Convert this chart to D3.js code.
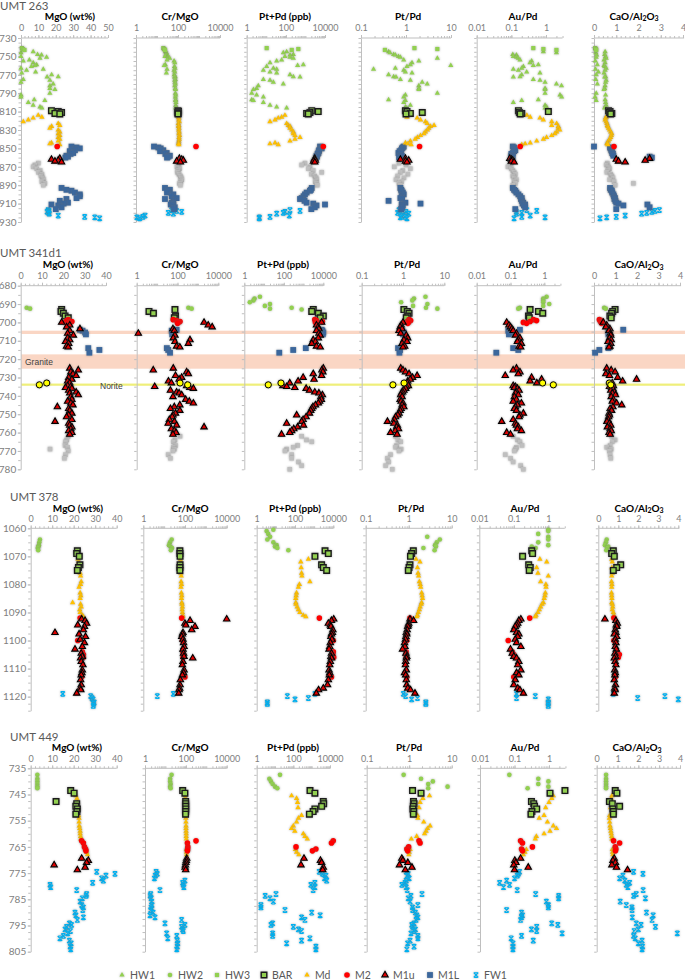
<!DOCTYPE html>
<html><head><meta charset="utf-8">
<script src="https://cdn.jsdelivr.net/npm/d3@7"></script>
<style>
body{margin:0;background:#fff}
svg{display:block;font-family:Lato,"Open Sans","Liberation Sans",sans-serif}
.mk{filter:drop-shadow(0 0 0.8px rgba(110,110,110,0.55))}
</style>
</head><body>
<svg id="c" width="685" height="980"></svg>
<script>
// ---------- DATA: rows = [depth, MgO, Cr/MgO, Pt+Pd, Pt/Pd, Au/Pd, CaO/Al2O3] ----------
// UMT 263
const hw3_263 = [[741,0.5,20,10.5,1.54,0.43,0.05],[742,1.0,22,433,4.97,0.84,0.08],[743,2.0,24,200,0.34,2.0,0.10]];
const hw1_263 = [
[745,7.0,25,110,0.41,0.84,0.50],[746,0.0,28,74,0.44,2.0,0.08],[748,9.5,30,241,0.53,0.11,0.48],[748.5,11.8,26,163,0.58,0.14,0.12],
[750,0.0,24,90,0.68,0.114,0.52],[751,14.7,35,163,0.75,0.142,0.10],[752,10.9,40,241,4.97,0.159,0.55],[754,4.8,30,61,0.89,0.178,0.45],
[755,1.3,65,34,1.93,0.386,0.06],[757,7.0,70,15.5,1.36,0.345,0.50],[759,9.0,25,780,1.25,0.6,0.15],[760,8.0,22,400,9.9,0.43,0.45],[761,6.0,68,10.5,1.05,0.222,0.48],
[763,0.0,72,23,0.58,0.199,0.55],[764,12.8,30,34,0.19,0.114,0.07],[765,3.2,65,7.1,0.89,0.159,0.50],[767,8.4,70,15.5,0.97,0.277,0.20],
[768,0.4,28,34,1.36,0.67,0.45],[770,17.6,66,163,0.41,0.199,0.10],[772,21.4,74,241,0.53,0.178,0.52],[772.5,15,68,530,0.6,0.114,0.48],
[775,1.3,75,7.1,0.75,0.43,0.08],[776,16.6,70,15.5,1.25,0.67,0.55],[778,0.0,72,23,2.29,0.94,0.52],[780,18.5,75,74,2.96,2.0,0.15],
[782,16.6,70,3.9,1.93,2.8,0.50],[785,16.6,74,3.2,1.93,0.94,0.48],[786,19.5,76,2.2,1.93,0.94,0.45],[790,16.6,75,1.8,4.97,0.94,0.10],
[792,0.0,78,3.2,0.97,2.53,0.52],[794,0.0,75,7.1,0.89,2.83,0.05],[797,7.6,78,1.8,0.41,0.6,0.50],[798,13.7,76,2.2,0.97,0.199,0.10],
[800,4.2,80,7.1,0.89,0.114,0.52],[803,7.0,78,15.5,1.25,0.94,0.55],[805,10.9,80,34,0.97,1.04,0.50],[806,12,78,110,1.04,0.94,0.48]];
const bar_263 = [[809,17.5,100,2100,0.97,0.16,0.65],[810,21.4,105,4500,1.05,1.17,0.72],[811,23.3,98,1700,2.3,0.17,0.70],[812,19.5,102,1155,1.25,0.20,0.80],[812.5,22.3,100,1400,1.0,0.18,0.75]];
const md_263 = [
[814,9.9,110,90,1.15,0.28,0.60],[816,12.0,105,61,1.05,0.35,0.55],[817,7.0,112,41,1.77,0.67,0.52],[819,4.2,108,28,2.1,0.84,0.50],
[821,1.3,115,15.5,2.7,1.46,0.55],[823,21.4,104,110,2.96,2.03,0.58],[825,22.3,110,133,4.2,1.46,0.60],[826,17.6,106,163,3.5,2.27,0.62],
[828,16.6,112,163,3.2,2.27,0.65],[830,21.4,108,200,3.0,2.5,0.70],[832,22.3,114,241,2.7,2.03,0.75],[834,21.4,110,241,2.5,1.8,0.80],
[836,22.3,118,293,2.1,1.46,0.78],[838,21.4,112,530,1.8,1.04,0.75],[840,22.3,115,293,1.6,0.84,0.70],[842,21.4,110,163,1.25,0.54,0.65],
[844,17.5,108,28,0.97,0.35,0.60],[845,16.6,105,15.5,1.1,0.25,0.58],[846,22.3,110,41,1.3,0.20,0.62]];
const m2_263 = [[848,20.8,720,8200,2.0,0.18,0.9]];
const m1u_263 = [[861,22.3,116,3000,0.97,0.09,2.5],[862,17.5,150,2800,0.75,0.10,1.0],[863,21.4,180,3200,1.15,0.11,2.3],[864,19.5,86,2600,0.97,0.10,1.1],[865,23.3,130,3000,1.05,0.12,1.4]];
const m1l_263 = [
[848,29.0,7.2,5600,0.89,0.11,0.0],[849,31.9,11.6,6000,0.85,0.12,0.72],[850,33.8,15,6800,0.81,0.12,0.75],[852,31.0,20,5000,0.78,0.13,0.78],
[853,28.0,14,4800,0.72,0.12,0.80],[855,30.0,29,4600,0.68,0.11,0.82],[856,28.5,25,4200,0.75,0.10,0.85],[858,26.1,41,3700,0.81,0.10,0.87],
[859,27.0,35,3900,0.78,0.11,2.5],[860,25.5,30,3500,0.70,0.10,2.6],
[893,23.3,24,2100,0.75,0.11,0.72],[895,26.1,41,1900,0.78,0.12,0.75],[896,29.0,35,1700,0.80,0.13,0.80],[898,31.0,30,1150,0.85,0.14,0.82],
[900,33.8,60,950,0.89,0.16,0.87],[902,33.8,50,800,0.80,0.18,0.90],[904,31.9,86,640,0.75,0.20,0.94],[905,26.1,24,530,0.82,0.19,0.92],
[907,22.3,60,900,0.41,0.20,0.96],[909,27.0,50,1150,0.97,0.22,1.0],[910,24.5,55,2500,2.1,0.21,1.1],[911,17.5,45,10000,0.80,0.25,2.4],
[912,21.4,60,3700,0.85,0.23,1.32],[914,23.3,70,3000,0.82,0.25,2.5],[916,20.0,65,2000,0.78,0.13,1.0]];
const grey_263 = [
[866,10.0,100,950,0.70,0.10,0.60],[868,8.0,110,640,1.0,0.09,0.55],[870,7.0,90,1700,0.55,0.08,0.65],[872,9.0,120,1400,1.25,0.10,0.70],
[874,11.0,100,2500,0.85,0.11,0.62],[876,10.0,95,6800,0.75,0.12,0.58],[878,12.0,110,2000,1.1,0.13,0.75],[880,11.5,130,3000,0.65,0.11,0.80],
[882,12.5,140,3500,0.9,0.12,0.85],[884,13.0,150,3700,0.6,0.14,0.70],[886,12.0,135,3200,0.8,0.12,0.90],[888,13.7,120,3700,0.7,0.13,1.77],[890,12.8,130,4000,0.75,0.11,0.95]];
const fw1_263 = [
[917,15.6,50,163,0.70,0.28,2.94],[918,16.2,86,530,0.85,0.54,2.74],[919,15.0,150,90,1.0,0.14,2.6],[920,16.0,34.6,74,0.65,0.20,2.37],
[921,16.2,60,34,1.15,0.14,2.14],[923,21.4,2.7,150,0.80,0.35,1.4],[924.5,36.6,2.1,15.5,0.95,0.20,1.0],[925,42.4,1.1,4.4,0.75,0.94,0.57],[926,45.2,1.5,4.4,1.05,0.12,0.27]];

// UMT 341d1
const hw2_341 = [
[686,null,null,6.2,3.5,1.17,null],[687,null,null,3.3,1.85,0.93,null],[688,null,null,2.9,1.68,0.93,null],[689,null,null,1.9,0.9,0.93,null],
[690,null,null,20,3.9,1.4,null],[691,null,null,11,1.75,0.93,null],[692,2.8,340,250,3.6,0.19,0.47],[692.5,4.4,495,20,6.8,0.17,0.55],[693,null,null,800,null,null,null]];
const bar_341 = [[693,19.2,75,3100,1.05,0.38,0.98],[694,18.9,4.0,2600,1.27,0.67,0.87],[695,20.0,6.6,5600,1.4,0.90,0.82],[696.5,20.8,80,10000,1.3,0.34,0.74],[697.5,22.3,70,7000,1.2,0.36,0.80]];
const m2_341 = [[698.5,22.3,62,3700,1.4,0.48,0.25],[699,21.6,91,4500,1.53,0.59,0.36],[699.5,24.0,133,9000,1.27,0.38,0.30],[700,20.8,110,4000,1.35,0.24,0.40],[700.5,23.0,100,5000,1.3,0.30,0.35]];
const m1u_341 = [
[700,19.2,2000,8200,1.0,0.077,0.43],[701.5,23.0,3200,4500,0.9,0.09,0.59],[702.5,21.5,5000,5500,0.85,0.10,0.55],[703.5,27.8,60,6000,0.95,0.11,0.74],
[704.5,23.0,70,4500,0.80,0.12,0.70],[706,22.0,1.2,6000,0.88,0.15,0.76],[707,24.7,75,7000,1.2,0.14,0.78],[708.5,22.0,62,5600,1.3,0.19,0.72],
[709.5,23.0,410,3100,1.05,0.17,0.80],[710.5,21.0,75,4000,1.25,0.16,0.65],[711.5,22.5,340,2600,0.95,0.21,0.78],[713,21.5,90,4500,1.1,0.18,0.74],[713.5,22.3,130,7000,1.0,0.20,0.70],
[725,23.0,62,10000,0.88,0.15,0.59],[726,27.0,6.5,8500,1.0,0.12,0.80],[727,23.5,280,9500,1.15,0.19,0.98],[728,24.5,340,3100,1.4,0.17,0.55],
[729,26.0,80,8200,2.2,0.07,0.72],[730,22.5,160,950,1.7,0.42,1.1],[731,24.0,120,3400,1.5,0.83,1.98],[732,22.0,36,530,1.3,0.38,1.33],
[733,23.0,50,200,1.27,0.60,0.85],[734.5,22.0,280,90,1.35,0.12,0.90],[735,23.5,7.6,140,1.2,0.14,0.72],[735.5,21.0,400,360,1.1,0.13,0.82],
[736,24.0,600,1350,1.16,0.16,0.88],[737,22.5,45,2000,1.05,0.18,0.78],[738,26.0,90,3700,0.98,0.15,0.95],[738.5,23.0,120,6000,0.92,0.14,0.85],
[739.5,27.0,160,9000,0.88,0.17,1.0],[740.5,23.5,60,7500,0.95,0.13,0.80],[742,24.0,250,8000,0.85,0.15,0.90],[743,22.0,380,6500,0.90,0.12,0.85],
[744,23.5,600,5600,1.0,0.21,1.05],[745,24.5,130,4000,0.95,0.16,1.29],[746,17.2,70,3000,1.05,0.14,0.88],[747,22.5,45,2600,0.90,0.13,0.75],
[748,23.0,130,2300,0.85,0.15,0.82],[749.5,24.0,80,2000,0.80,0.24,0.70],[750.5,22.5,60,450,0.75,0.19,0.72],[751.5,21.5,55,1350,0.66,0.18,0.68],
[753,24.0,40,950,0.62,0.12,0.65],[754,16.1,70,800,0.42,0.055,0.60],[755,22.5,35,140,0.60,0.14,0.72],[756,23.0,90,1000,0.73,0.15,0.78],
[757,24.0,2000,500,0.70,0.17,0.62],[758,23.5,50,320,0.78,0.16,0.75],[759,22.5,70,250,0.65,0.21,0.80],[760,24.0,85,200,0.50,0.077,0.70],[761,23.0,60,77,0.72,0.10,0.75]];
const m1l_341 = [[704,27.8,91,8200,0.88,0.19,1.36],[704.5,29.0,52,9000,0.96,0.086,0.67],[705.5,30.2,62,10000,1.05,0.10,0.70],[706.5,30.6,55,9500,1.0,0.09,0.67],
[714,31.7,30,1300,0.76,0.12,0.67],[715,36.9,35,300,0.85,0.17,0.25],[716.5,32.2,43,59,0.82,0.038,0.05]];
const nor_341 = [[733,12.2,133,72,1.06,0.89,0.71],[734,8.75,316,16.4,0.57,1.85,0.78]];
const grey_341 = [
[762,22.3,133,800,0.66,0.12,0.82],[764,21.6,75,1400,0.75,0.16,0.98],[765,21.0,62,2600,0.88,0.19,0.85],[767,20.8,80,500,0.70,0.22,0.75],
[768,22.0,62,300,0.66,0.15,0.59],[769,13.75,70,140,0.90,0.14,0.80],[770,22.3,60,115,0.80,0.13,0.72],[772,21.0,35,250,0.50,0.07,0.75],
[774,20.5,45,250,0.42,0.10,0.78],[776,null,null,550,0.45,0.12,null],[778,null,null,800,0.38,0.20,null],[780,null,null,200,0.55,0.24,null]];
const bands_341 = [[704.5,706.3],[717.4,725.2]];
const norite_341 = [733.3,734.5];

// UMT 378
const hw2_378 = [
[1060.5,null,null,7.4,null,1.0,null],[1061,null,null,3.3,null,1.0,null],[1062,null,null,4.0,null,0.51,null],[1063,null,null,5.0,2.7,1.0,null],
[1064,4.3,23,3.6,5.3,1.0,0.42],[1065,4.0,19,7.4,4.5,0.51,0.38],[1066,3.8,17,11,4.1,1.0,0.33],[1066.5,3.6,20,9,4.3,0.33,0.50],[1067,3.3,24,12,2.2,0.43,0.45],[1067.8,3.5,21,45,4.0,0.36,0.40]];
const bar_378 = [[1068,21.7,57,3700,1.28,0.33,0.75],[1069,21.4,57,5500,1.17,0.35,0.67],[1070,22.6,58,1100,1.1,0.18,0.80],[1073,22.9,58,2450,1.07,0.27,1.12],[1074,22.2,57,3000,1.02,0.30,0.92],[1075,21.7,57,4500,0.98,0.28,0.75]];
const md_378 = [
[1071,22.0,60,500,1.48,0.57,0.67],[1072,22.3,62,200,1.83,0.90,0.70],[1074,22.6,65,210,1.6,0.46,0.68],[1076,23.0,63,220,1.65,0.50,0.70],
[1077,23.2,66,230,1.7,1.0,0.67],[1079,23.5,65,600,1.77,0.60,0.66],[1080,23.2,68,170,1.85,0.85,0.68],[1081,22.5,64,150,1.9,0.86,0.67],
[1083,23.0,67,120,2.0,0.82,0.66],[1084,23.3,70,115,2.05,0.80,0.67],[1085,23.0,68,110,2.1,0.76,0.68],[1086.5,19.5,70,110,2.0,0.72,0.67],
[1087,23.2,72,112,1.95,0.66,0.70],[1088,23.5,75,130,1.85,0.60,0.72],[1089,22.8,73,150,1.77,0.55,0.70],[1090,23.0,75,180,1.68,0.50,0.75],
[1091,24.0,78,270,1.6,0.44,0.78],[1091.5,24.5,80,370,1.55,0.42,0.76]];
const m2_378 = [[1092,23.0,69,1870,1.07,0.29,0.78],[1100,21.9,75,10000,0.90,0.069,0.78],[1104,24.0,78,10000,0.87,0.09,0.92],[1105,24.5,85,9500,0.88,0.10,1.05],[1106,24.5,80,10500,0.87,0.11,1.0],[1113,23.7,99,8000,0.90,0.10,0.85]];
const m1u_378 = [
[1092.4,23.7,10000,10500,1.07,0.16,0.33],[1092.9,25.3,175,8000,1.3,0.14,0.88],[1093.9,26.0,99,5500,1.0,0.13,0.95],[1094.5,21.9,110,7000,0.98,0.12,0.90],
[1095,25.0,300,7500,0.95,0.11,0.92],[1096.2,24.5,210,9500,0.92,0.10,0.85],[1097.2,11.3,80,9000,0.88,0.12,0.88],[1097.7,22.5,75,8000,0.90,0.14,0.80],
[1098.6,25.5,70,7500,0.86,0.13,0.92],[1099.6,23.0,80,8500,0.84,0.11,0.85],[1100.8,25.0,85,7000,0.80,0.12,0.88],[1102.2,24.0,90,6500,0.82,0.16,0.85],
[1103.1,20.6,80,6000,0.72,0.08,0.90],[1104.6,23.5,85,8000,0.86,0.09,0.83],[1105.7,24.0,90,7500,0.90,0.10,0.86],[1106.3,23.2,235,8000,0.88,0.12,0.80],
[1107.5,23.5,80,7000,0.85,0.14,0.84],[1108.7,24.3,75,6500,0.84,0.13,0.88],[1110.5,24.0,90,6000,0.88,0.16,0.82],[1111.5,23.8,85,6500,0.80,0.12,0.85],
[1112.3,23.5,75,6200,0.85,0.14,0.83],[1114,23.2,60,5500,0.88,0.11,0.80],[1115.8,23.5,58,5000,0.90,0.10,0.86],[1117,23.0,55,3000,0.95,0.13,0.82],
[1117.6,23.3,52,1700,1.1,0.15,0.84],[1118.8,21.4,50,1300,1.4,0.19,0.80]];
const fw1_378 = [[1119,14.9,27.5,1100,0.75,0.12,0.75],[1119.8,27.9,4.7,40,0.85,0.42,3.33],[1120.5,28.5,null,500,1.6,0.12,1.97],[1121,29.0,null,100,1.17,1.0,4.0],
[1122,29.5,null,3.6,2.5,1.0,null],[1122.6,29.3,null,3.6,2.5,1.0,null],[1123.3,29.1,null,null,null,1.0,null]];

// UMT 449
const hw2_449 = [[737.5,3.1,20,18.7,0.74,0.071,0.45],[739,3.1,17,4.9,1.9,0.49,0.45],[740,3.1,17,6.0,3.6,0.96,0.45],[741,3.1,18,7.4,2.8,0.49,0.45],[742,3.1,17,10,8.0,0.96,0.45],[742.6,3.1,18,13.4,2.8,0.24,0.45]];
const bar_449 = [[743.5,18.6,70,810,1.2,2.9,0.89],[744.5,20.2,90,1500,1.9,1.07,0.97],[747.7,11.8,98,4300,1.26,0.31,0.61],[748.5,21.4,98,4500,1.3,0.36,0.75],
[749.5,21.0,98,3500,1.25,0.38,1.1],[750.5,21.7,99,1500,1.22,0.44,0.77],[751.5,21.5,98,1200,1.28,0.32,0.80],[752.5,21.0,97,750,1.25,0.30,0.80]];
const md_449 = [
[745.5,21.0,92,80,3.0,1.33,0.73],[746.5,21.5,95,150,2.1,1.2,0.70],[748,21.8,97,170,1.8,1.0,0.68],[750,22.0,98,180,1.7,0.8,0.66],
[753,22.3,100,280,1.57,0.72,0.62],[754,22.5,100,190,1.6,0.52,0.61],[755.5,22.5,101,150,2.2,0.9,0.62],[757,22.6,102,100,3.1,1.33,0.64],
[758,22.8,102,80,2.7,1.65,0.66],[759,23.0,103,120,2.5,1.07,0.68],[760,23.0,104,350,2.3,0.72,0.70],[761,23.2,104,430,1.5,0.43,0.72],
[762,23.3,105,580,1.12,0.40,0.73],[766,25.5,106,130,1.05,0.22,0.75],[767,26.0,107,150,1.0,0.20,0.76],[768,26.4,108,200,0.98,0.18,0.77]];
const m2_449 = [[762.7,23.7,315,15000,1.7,0.15,0.81],[763.5,24.5,119,12000,1.8,0.17,1.1],[765,25.0,125,140,0.97,0.33,0.89],[765.8,25.5,122,1700,0.88,0.16,0.92],[766.5,25.7,120,1100,0.92,0.17,0.90]];
const m1u_449 = [[769.4,23.7,110,380,0.67,0.15,0.84],[770.2,26.8,105,3000,0.71,0.102,0.78],[771,26.0,100,3500,0.93,0.11,0.90],[771.9,10.9,95,260,0.59,0.095,0.73],[772.8,25.3,92,4300,1.16,0.25,0.95],[773.8,21.7,98,4000,0.81,0.10,1.48]];
const fw1_449 = [
[774.5,30.7,3.5,2600,0.85,0.14,1.77],[775.3,39.2,4.0,3900,0.95,0.13,2.22],[776.0,35.0,3.2,6000,0.90,0.12,1.26],[777,33.0,2.9,5000,1.0,0.10,1.1],
[777.9,33.8,90,6600,0.85,0.059,1.35],[778.7,28.8,70,1500,0.80,0.037,1.58],[779.5,9.0,75,900,0.67,0.072,1.42],[780.4,9.3,80,1500,0.85,0.048,1.5],
[781.5,21.4,5.4,1200,0.90,0.12,2.23],[783,26.0,1.9,11.3,2.0,0.41,1.9],[783.7,25.8,1.8,2.9,1.1,1.9,1.77],[784.6,24.0,2.0,5.3,0.95,1.9,2.34],
[785.9,23.0,2.1,8.1,1.05,0.84,1.13],[787.2,23.7,2.2,1.7,1.6,0.96,1.42],[788.1,24.5,2.0,1.7,1.2,0.96,1.69],[789.1,24.2,1.9,35,1.2,0.059,1.70],
[790.1,20.6,2.5,1000,1.4,0.16,2.39],[791.1,21.0,1.76,2900,1.5,0.17,2.71],[791.9,24.5,3.1,280,1.6,0.16,1.71],[792.9,21.7,62,430,1.45,0.15,2.66],
[794.2,18.0,9.5,7.4,1.3,1.2,1.9],[794.8,19.0,90,6.0,1.15,1.8,2.13],[795.5,16.7,62,100,1.2,0.44,2.82],[796.5,16.0,70,190,1.4,0.31,2.0],
[797.1,18.5,75,280,1.3,0.44,1.8],[798,17.2,11.5,7.4,1.1,2.4,3.87],[799,15.2,36,7.4,1.6,0.16,1.77],[799.9,13.6,13,800,1.6,0.08,1.85],
[800.8,18.0,38,280,1.05,0.35,2.18],[801.8,18.8,40,43,0.92,0.09,2.0],[803.1,18.4,38,1700,1.3,0.09,2.2],[804.1,18.6,36,1700,0.88,0.09,2.18]];

// tick labels
const yTicks263 = [730,750,770,790,810,830,850,870,890,910,930];
const yTicks341 = [680,690,700,710,720,730,740,750,760,770,780];
const yTicks378 = [1060,1070,1080,1090,1100,1110,1120];
const yTicks449 = [735,745,755,765,775,785,795,805];
const mgoTicks50 = [0,10,20,30,40,50], mgoTicks40 = [0,10,20,30,40];
const logTicks4 = [1,100,10000], ptpdRTicks = [0.1,1,10], aupdTicks = [0.01,0.1,1], caoTicks = [0,1,2,3,4];
const legendNames = ['HW1','HW2','HW3','BAR','Md','M2','M1u','M1L','FW1'];

// ---------- STYLE / LAYOUT ----------
const STY = {
  grey:{shape:'sq',s:4.6,fill:'#BFBFBF'},
  HW1:{shape:'tri',s:5.2,fill:'#92D050'},
  HW2:{shape:'circ',s:4.6,fill:'#92D050'},
  HW3:{shape:'sq',s:4.2,fill:'#92D050'},
  FW1:{shape:'x',s:4.6,stroke:'#00B0F0'},
  M1L:{shape:'sq',s:5.8,fill:'#3B679C'},
  Md:{shape:'tri',s:5.4,fill:'#FFC000'},
  BAR:{shape:'sq',s:5.6,fill:'#92D050',stroke:'#1a1a1a',sw:1.4},
  M2:{shape:'circ',s:5.6,fill:'#FF0000'},
  M1u:{shape:'tri',s:6.4,fill:'#E00000',stroke:'#000',sw:1.1},
  Norite:{shape:'circ',s:6.2,fill:'#FFFF00',stroke:'#000',sw:1}
};
const VARS = [
  {key:1, log:false, label:'MgO (wt%)'},
  {key:2, log:true, dom:[1,10000], ticks:logTicks4, label:'Cr/MgO'},
  {key:3, log:true, dom:[1,10000], ticks:logTicks4, label:'Pt+Pd (ppb)'},
  {key:4, log:true, dom:[0.1,10], ticks:ptpdRTicks, label:'Pt/Pd'},
  {key:5, log:true, dom:[0.01,1], ext:3, ticks:aupdTicks, label:'Au/Pd'},
  {key:6, log:false, dom:[0,4], ext:4.05, ticks:caoTicks, minor:0.2, label:'CaO/Al2O3'}
];
const PANELS = [
  {title:'UMT 263', tx:0, titleY:10, headY:19.5, tickY:30.5, top:38, bottom:222, dom:[730,930], yTicks:yTicks263, minorY:5,
   mgoMax:50, mgoTicks:mgoTicks50,
   xr:[[21,108],[136,220],[246.7,325],[361,451],[476.7,546],[594,683]], hx:[70,180,285,408,523,634],
   series:[['grey',grey_263],['HW1',hw1_263],['HW3',hw3_263],['FW1',fw1_263],['M1L',m1l_263],['Md',md_263],['BAR',bar_263],['M2',m2_263],['M1u',m1u_263]]},
  {title:'UMT 341d1', tx:0, titleY:256.5, headY:268, tickY:278.5, top:285.7, bottom:469.3, dom:[680,780], yTicks:yTicks341, minorY:5,
   mgoMax:40, mgoTicks:mgoTicks40,
   xr:[[20.7,106],[136.7,218.3],[244.3,323.3],[361.7,444.3],[476.7,544.3],[594,680]], hx:[68,180,283,407,523,639],
   bands:true,
   series:[['grey',grey_341],['HW2',hw2_341],['M1L',m1l_341],['BAR',bar_341],['M2',m2_341],['M1u',m1u_341],['Norite',nor_341]]},
  {title:'UMT 378', tx:10, titleY:501, headY:511.5, tickY:521.5, top:528.3, bottom:710.7, dom:[1060,1125], yTicks:yTicks378, minorY:2.5,
   mgoMax:40, mgoTicks:mgoTicks40,
   xr:[[30.7,116.7],[143.3,226.7],[256.7,333.3],[365.7,451.7],[479.3,548.3],[598.3,678.3]], hx:[78,190,295,411,525,639],
   series:[['HW2',hw2_378],['FW1',fw1_378],['Md',md_378],['BAR',bar_378],['M2',m2_378],['M1u',m1u_378]]},
  {title:'UMT 449', tx:10, titleY:741, headY:751, tickY:762, top:768.3, bottom:951.7, dom:[735,805], yTicks:yTicks449, minorY:2.5,
   mgoMax:40, mgoTicks:mgoTicks40,
   xr:[[30.7,116.7],[145,226.7],[256.7,330],[366.7,451.7],[480,549],[596.7,680]], hx:[77,190,293,409,525,637],
   series:[['HW2',hw2_449],['FW1',fw1_449],['Md',md_449],['BAR',bar_449],['M2',m2_449],['M1u',m1u_449]]}
];

const svg = d3.select('#c');
const AX = '#BFBFBF', TXT = '#808080';

function symPath(st){
  const s = st.s;
  if (st.shape==='x'){
    const h=s/2;
    return `M${-h},${-h}L${h},${h}M${-h},${h}L${h},${-h}M${-h*0.7},${-h}L${h*0.7},${-h}M${-h*0.7},${h}L${h*0.7},${h}`;
  }
  const type = st.shape==='tri'?d3.symbolTriangle: st.shape==='circ'?d3.symbolCircle:d3.symbolSquare;
  const area = st.shape==='tri'? 0.433*s*s : st.shape==='circ'? Math.PI*s*s/4 : s*s;
  return d3.symbol().type(type).size(area)();
}
function drawMark(g, name, x, y){
  const st = STY[name];
  const p = g.append('path').attr('d', symPath(st)).attr('transform',`translate(${x},${y})`).attr('class','mk');
  if (st.shape==='x') p.attr('fill','none').attr('stroke',st.stroke).attr('stroke-width',1.15);
  else p.attr('fill',st.fill).attr('stroke',st.stroke||'none').attr('stroke-width',st.sw||0);
}

function styleAxis(sel){
  sel.selectAll('path.domain').attr('stroke',AX).attr('stroke-width',1);
  sel.selectAll('.tick line').attr('stroke',AX);
  sel.selectAll('.tick text').attr('fill',TXT).style('font-family','Lato,"Open Sans",sans-serif');
}

PANELS.forEach(P => {
  const g = svg.append('g');
  const y = d3.scaleLinear().domain(P.dom).range([P.top, P.bottom]);
  g.append('text').attr('x',P.tx).attr('y',P.titleY).text(P.title)
    .attr('fill','#595959').style('font-size','11.5px');

  if (P.bands){
    const x0 = P.xr[0][0]+0.5;
    bands_341.forEach(b => g.append('rect').attr('x',x0).attr('width',685-x0)
      .attr('y',y(b[0])).attr('height',y(b[1])-y(b[0])).attr('fill','#FAD2BE').attr('opacity',0.9));
    g.append('rect').attr('x',x0).attr('width',685-x0).attr('y',y(norite_341[0])).attr('height',y(norite_341[1])-y(norite_341[0]))
      .attr('fill','#EFEF7A');
    g.append('text').attr('x',25).attr('y',(y(bands_341[1][0])+y(bands_341[1][1]))/2+3).text('Granite')
      .attr('fill','#404040').style('font-size','8.5px').style('font-family','"Liberation Sans",Arial,sans-serif');
    g.append('text').attr('x',100).attr('y',y(norite_341[0])+5).text('Norite')
      .attr('fill','#404040').style('font-size','8.5px').style('font-family','"Liberation Sans",Arial,sans-serif');
  }

  const scales = VARS.map((v,i) => {
    const dom = v.key===1 ? [0,P.mgoMax] : v.dom;
    return (v.log? d3.scaleLog(): d3.scaleLinear()).domain(dom).range(P.xr[i]);
  });

  VARS.forEach((v,i) => {
    const sc = scales[i];
    const x0 = P.xr[i][0];
    const dom = sc.domain();
    const extV = v.key===1 ? P.mgoMax : (v.ext||dom[1]);
    const xEnd = sc(extV);
    g.append('line').attr('x1',x0).attr('x2',xEnd).attr('y1',P.top).attr('y2',P.top).attr('stroke',AX);
    let minor = [];
    if (v.log){
      for (let k=Math.round(Math.log10(dom[0])); Math.pow(10,k)<=extV; k++)
        for (let m=1;m<10;m++){ const val=m*Math.pow(10,k); if(val<=extV*1.0001) minor.push(val);}
    } else {
      minor = d3.range(0, extV+1e-9, v.minor || 2);
    }
    const ma = g.append('g').attr('transform',`translate(0,${P.top})`)
      .call(d3.axisTop(sc).tickValues(minor).tickSize(2).tickFormat('').tickSizeOuter(0));
    ma.select('path.domain').remove();
    styleAxis(ma);
    const ticks = v.key===1 ? P.mgoTicks : v.ticks;
    const mj = g.append('g').attr('transform',`translate(0,${P.top})`)
      .call(d3.axisTop(sc).tickValues(ticks).tickSize(3).tickSizeOuter(0).tickFormat(d3.format('~g')));
    mj.select('path.domain').remove();
    styleAxis(mj);
    mj.selectAll('.tick text').attr('y',0).attr('dy',0)
      .attr('transform',`translate(0,${P.tickY-P.top})`).style('font-size','9px');

    const vl = g.append('g').attr('transform',`translate(${x0},0)`)
      .call(d3.axisLeft(y).tickValues(d3.range(P.dom[0],P.dom[1]+1e-9,P.minorY)).tickSize(2.5).tickFormat('').tickSizeOuter(0));
    styleAxis(vl);
    if (i===0){
      const yl = g.append('g').attr('transform',`translate(${x0},0)`)
        .call(d3.axisLeft(y).tickValues(P.yTicks).tickSize(3).tickPadding(1.5).tickSizeOuter(0).tickFormat(d3.format('d')));
      yl.select('path.domain').remove();
      styleAxis(yl);
      yl.selectAll('.tick text').style('font-size','10px');
    }

    const h = g.append('text').attr('x',P.hx[i]).attr('y',P.headY).attr('text-anchor','middle')
      .attr('fill','#000').style('font-size','10px').style('font-weight','bold');
    if (v.key===6){
      h.append('tspan').text('CaO/Al');
      h.append('tspan').text('2').attr('dy',1.8).style('font-size','7px');
      h.append('tspan').text('O').attr('dy',-1.8);
      h.append('tspan').text('3').attr('dy',1.8).style('font-size','7px');
    } else h.text(v.label);
  });

  const mg = g.append('g');
  P.series.forEach(([name, rows]) => {
    rows.forEach(r => {
      VARS.forEach((v,i) => {
        const val = r[v.key];
        if (val===null || val===undefined) return;
        drawMark(mg, name, scales[i](val), y(r[0]));
      });
    });
  });
});

// legend
const legX = [122,170,217,264,307,347,385,430,476];
const lg = svg.append('g');
legendNames.forEach((n,i) => {
  drawMark(lg, n, legX[i], 975);
  lg.append('text').attr('x',legX[i]+8).attr('y',979).text(n).attr('fill','#595959').style('font-size','10.5px');
});
</script>
</body></html>
